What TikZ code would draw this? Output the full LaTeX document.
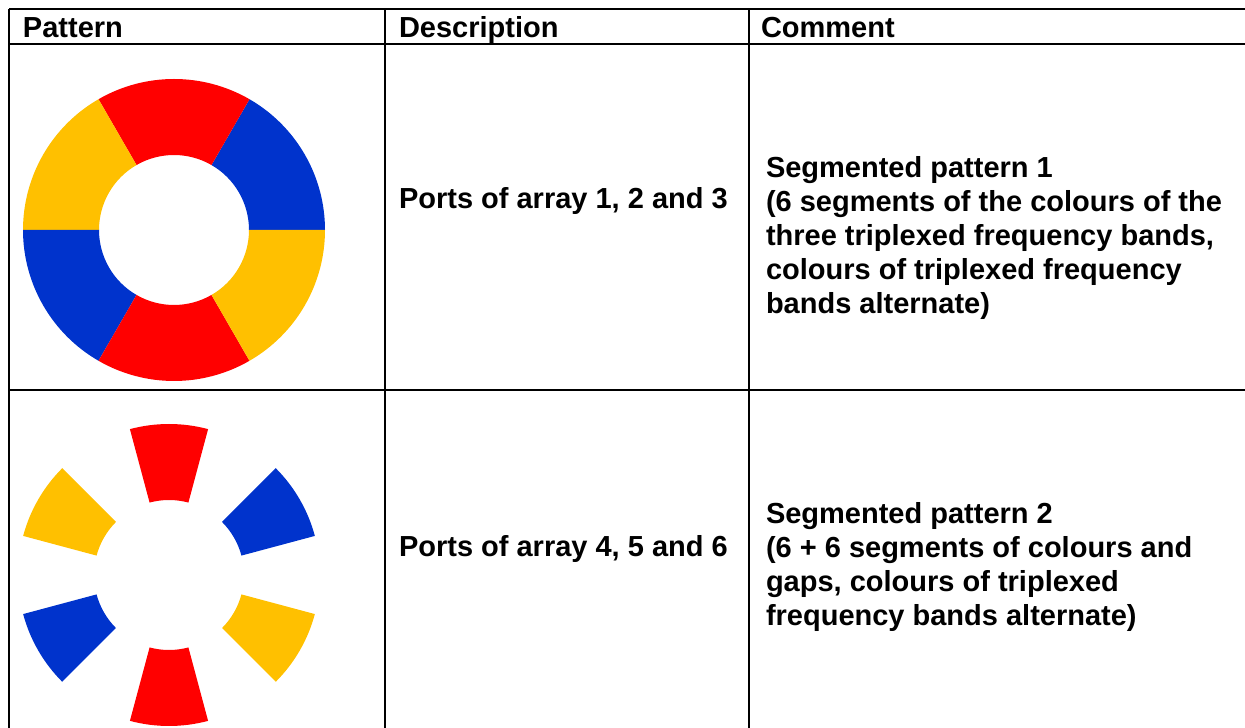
\documentclass[tikz,border=0pt]{standalone}
\usepackage{fontspec}
\setmainfont{Liberation Sans}
\definecolor{segred}{HTML}{FF0000}
\definecolor{segblue}{HTML}{0033CC}
\definecolor{segyellow}{HTML}{FFC000}
\tikzset{
  cell/.style={anchor=base west, inner sep=0pt, font=\fontsize{29}{34}\selectfont\bfseries},
  note/.style={anchor=north west, inner sep=0pt, align=left, font=\fontsize{29}{34}\selectfont\bfseries},
}

\begin{document}
\begin{tikzpicture}[x=1pt, y=1pt, line width=2pt]
    \useasboundingbox (0,0) rectangle (1245,728);

    % table rules
    \draw (9,719) -- (1245,719);
    \draw (9,684) -- (1245,684);
    \draw (9,338) -- (1245,338);
    \draw (9,719) -- (9,0);
    \draw (385,719) -- (385,0);
    \draw (749,719) -- (749,0);

    % header
    \node[cell] (hpat) at (22,690) {Pattern};
    \node[cell] (hdesc) at (398,690) {Description};
    \node[cell] (hcom) at (760,690) {Comment};

    % pattern 1: closed ring
    \begin{scope}[shift={(174,498)}]
      \foreach \a/\c in {0/segblue, 60/segred, 120/segyellow, 180/segblue, 240/segred, 300/segyellow}
        \fill[\c] (\a:75) -- (\a:151) arc[start angle=\a, end angle=\a+60, radius=151]
                  -- (\a+60:75) arc[start angle=\a+60, end angle=\a, radius=75] -- cycle;
    \end{scope}

    % pattern 2: segments with gaps
    \begin{scope}[shift={(169,153)}]
      \foreach \a/\c in {15/segblue, 75/segred, 135/segyellow, 195/segblue, 255/segred, 315/segyellow}
        \fill[\c] (\a:75) -- (\a:151) arc[start angle=\a, end angle=\a+30, radius=151]
                  -- (\a+30:75) arc[start angle=\a+30, end angle=\a, radius=75] -- cycle;
    \end{scope}

    \node[cell] (desc1) at (398,519) {Ports of array 1, 2 and 3};
    \node[cell] (desc2) at (398,171) {Ports of array 4, 5 and 6};

    \node[note] (com1) at (765,573) {Segmented pattern 1\\(6 segments of the colours of the\\three triplexed frequency bands,\\colours of triplexed frequency\\bands alternate)};
    \node[note] (com2) at (765,227) {Segmented pattern 2\\(6 + 6 segments of colours and\\gaps, colours of triplexed\\frequency bands alternate)};
\end{tikzpicture}
\end{document}
